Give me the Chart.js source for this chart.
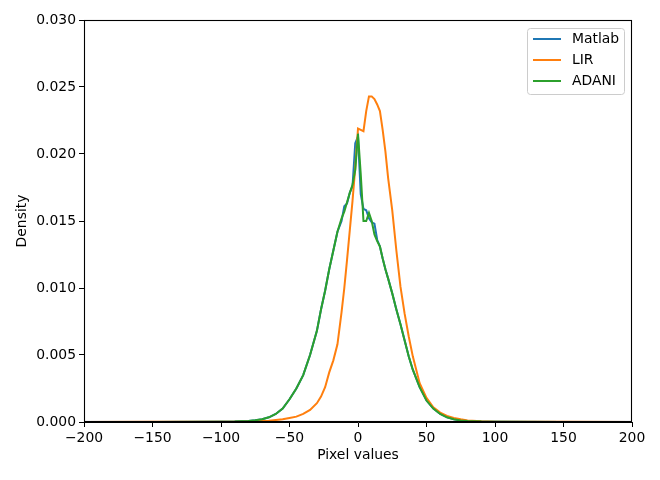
<!DOCTYPE html>
<html><head><meta charset="utf-8">
<script src="https://cdn.jsdelivr.net/npm/chart.js@4.4.0/dist/chart.umd.min.js"></script>
<style>html,body{margin:0;padding:0;background:#fff}canvas{display:block}</style>
</head><body>
<canvas id="c" width="660" height="480" style="width:660px;height:480px"></canvas>
<script>
const pixelValues = [-200,-150,-100,-90,-80,-75,-70,-65,-60,-55,-50,-45,-40,-35,-30,-27,-24,-21,-18,-15,-12,-10,-8,-6,-4,-2,0,2,4,6,8,10,12,14,16,18,20,22,25,28,31,34,37,40,45,50,55,60,65,70,75,80,90,100,150,200];
const matlab = [0,0,0.00001,0.00003,0.00008, 0.00013,0.0002,0.00035,0.0006,0.001, 0.0017,0.0025,0.0035,0.0050,0.0068, 0.0084,0.0098,0.0114,0.0128,0.0142, 0.0150,0.0161,0.0163,0.0171,0.0176, 0.0208,0.0213,0.0170,0.0159,0.0158, 0.0152,0.0149,0.0148,0.0136,0.0131, 0.0122,0.0114,0.0107,0.0096,0.0084, 0.0073,0.0061,0.0049,0.0039,0.0026, 0.0016,0.0010,0.0006,0.00035,0.0002, 0.00012,0.00008,0.00003,0.00001,0, 0];
const lir = [0,0.00001,0.00001,0.00002,0.00004, 0.00006,0.00008,0.0001,0.00015,0.0002, 0.0003,0.0004,0.0006,0.0009,0.0014, 0.0019,0.0026,0.0037,0.0046,0.0058, 0.0082,0.0100,0.0121,0.0143,0.0165, 0.0190,0.0219,0.0218,0.0217,0.0232, 0.0243,0.0243,0.0241,0.0237,0.0232, 0.0218,0.0202,0.0182,0.0158,0.0128, 0.0101,0.0081,0.0064,0.0049,0.0029, 0.0018,0.0011,0.0007,0.00045,0.0003, 0.0002,0.00012,0.00005,0.00002,0.00001, 0];
const adani = [0,0,0.00001,0.00003,0.00008, 0.00013,0.0002,0.00035,0.0006,0.001, 0.0017,0.0025,0.0035,0.0050,0.0068, 0.0084,0.0098,0.0114,0.0128,0.0142, 0.0152,0.0157,0.0164,0.0171,0.0177, 0.0188,0.0215,0.0185,0.0150,0.0150, 0.0156,0.0150,0.0140,0.0135,0.0131, 0.0122,0.0114,0.0107,0.0096,0.0084, 0.0073,0.0061,0.0049,0.0039,0.0026, 0.0016,0.0010,0.0006,0.00035,0.0002, 0.00012,0.00008,0.00003,0.00001,0, 0];
const seriesNames = ['Matlab','LIR','ADANI'];
const seriesColors = ['#1f77b4','#ff7f0e','#2ca02c'];
const xTicks = [-200,-150,-100,-50,0,50,100,150,200];
const yTicks = [0,0.005,0.010,0.015,0.020,0.025,0.030];

const FONT = 'DejaVu Sans';
const FS = 13.9;
const toPts = ys => pixelValues.map((x,i)=>({x:x,y:ys[i]}));
const allSeries = [matlab, lir, adani];

const framePlugin = {
  id:'frame',
  afterDraw(chart){
    const {ctx, chartArea:a} = chart;
    ctx.save();
    ctx.strokeStyle='#000'; ctx.lineWidth=1.1;
    ctx.strokeRect(a.left+0.5, a.top+0.5, a.right-a.left-1, a.bottom-a.top-1);
    // legend
    const bx=527.5, by=28.5, bw=97, bh=66, r=3;
    ctx.fillStyle='rgba(255,255,255,0.8)';
    ctx.strokeStyle='#cccccc'; ctx.lineWidth=1;
    ctx.beginPath();
    ctx.moveTo(bx+r,by); ctx.lineTo(bx+bw-r,by); ctx.arcTo(bx+bw,by,bx+bw,by+r,r);
    ctx.lineTo(bx+bw,by+bh-r); ctx.arcTo(bx+bw,by+bh,bx+bw-r,by+bh,r);
    ctx.lineTo(bx+r,by+bh); ctx.arcTo(bx,by+bh,bx,by+bh-r,r);
    ctx.lineTo(bx,by+r); ctx.arcTo(bx,by,bx+r,by,r); ctx.closePath();
    ctx.fill(); ctx.stroke();
    ctx.font = FS+'px "'+FONT+'"';
    ctx.textBaseline='middle'; ctx.textAlign='left';
    chart.data.datasets.forEach((ds,i)=>{
      const y = 39 + i*21;
      ctx.strokeStyle=ds.borderColor; ctx.lineWidth=2;
      ctx.beginPath(); ctx.moveTo(533,y); ctx.lineTo(561,y); ctx.stroke();
      ctx.fillStyle='#000';
      ctx.fillText(ds.label, 572, y);
    });
    ctx.restore();
  }
};

new Chart(document.getElementById('c'), {
  type:'line',
  data:{ datasets: allSeries.map((s,i)=>({
    label: seriesNames[i], data: toPts(s), borderColor: seriesColors[i], backgroundColor: seriesColors[i],
    borderWidth: 2, pointRadius: 0, tension: 0, fill:false, order: allSeries.length - 1 - i
  }))},
  options:{
    responsive:false, animation:false, devicePixelRatio:1,
    layout:{padding:{top:20,right:28,left:0,bottom:0}},
    plugins:{legend:{display:false}, tooltip:{enabled:false}},
    scales:{
      x:{ type:'linear', min:-200, max:200,
        afterBuildTicks(s){ s.ticks = xTicks.map(v=>({value:v})); },
        afterFit(s){ s.height = 58; },
        grid:{ drawOnChartArea:false, tickLength:5, color:'#000', tickColor:'#000', tickWidth:1 },
        border:{ color:'#000', width:1 },
        ticks:{ color:'#000', font:{family:FONT,size:FS}, padding:3, maxRotation:0,
          callback:v=>String(v).replace('-','\u2212') },
        title:{ display:true, text:'Pixel values', color:'#000', font:{family:FONT,size:FS}, padding:{top:0,bottom:16} }
      },
      y:{ type:'linear', min:0, max:0.03,
        afterBuildTicks(s){ s.ticks = yTicks.map(v=>({value:v})); },
        afterFit(s){ s.width = 84; },
        grid:{ drawOnChartArea:false, tickLength:5, color:'#000', tickColor:'#000', tickWidth:1 },
        border:{ color:'#000', width:1 },
        ticks:{ color:'#000', font:{family:FONT,size:FS}, padding:3, callback:v=>v.toFixed(3) },
        title:{ display:true, text:'Density', color:'#000', font:{family:FONT,size:FS}, padding:{top:14,bottom:0} }
      }
    }
  },
  plugins:[framePlugin]
});
</script>
</body></html>
